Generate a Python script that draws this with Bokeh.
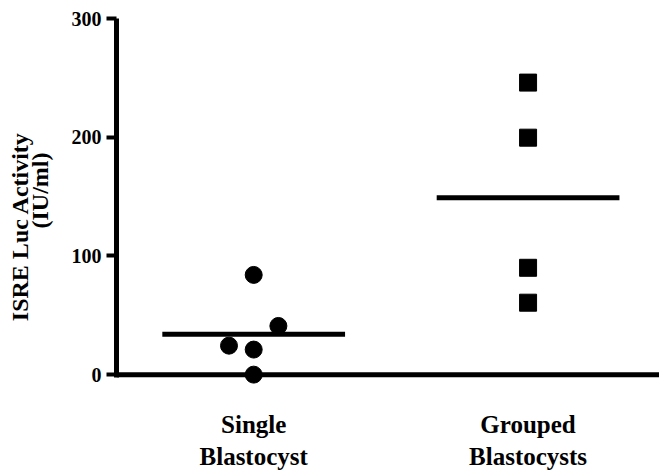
import numpy as np
from bokeh.plotting import figure
from bokeh.models import Range1d, Span, FixedTicker
from bokeh.embed import file_html
from bokeh.resources import INLINE

# ---- data ----
categories = ["Single\nBlastocyst", "Grouped\nBlastocysts"]
cat_pos = [1, 2]
single_values = [84.0, 41.0, 24.4, 21.1, 0.0]
single_jitter = [0.0, 0.09, -0.09, 0.0, 0.0]
grouped_values = [246.0, 199.6, 90.0, 60.6]
grouped_jitter = [0.0, 0.0, 0.0, 0.0]
y_ticks = [0, 100, 200, 300]
y_title = ["ISRE Luc Activity", "(IU/ml)"]

FONT = "Liberation Serif"
HALF = 0.333
NB = "\u00a0"

p = figure(width=659, height=472, output_backend="svg", toolbar_location=None,
           x_range=Range1d(0.5, 2.479), y_range=Range1d(-10, 300),
           min_border_left=116, min_border_right=0, min_border_top=18,
           min_border_bottom=80)
p.outline_line_color = None
p.xgrid.visible = False
p.ygrid.visible = False
p.background_fill_color = "white"
p.border_fill_color = "white"

# y axis
ya = p.yaxis[0]
ya.bounds = (-2, 300)
ya.ticker = FixedTicker(ticks=y_ticks)
ya.minor_tick_line_color = None
ya.major_tick_in = 0
ya.major_tick_out = 10
ya.major_tick_line_width = 4
ya.axis_line_width = 5
ya.major_label_standoff = 5
ya.major_label_text_font = FONT
ya.major_label_text_font_style = "bold"
ya.major_label_text_font_size = "20px"
ya.major_label_text_color = "black"
ya.axis_label = y_title[0] + NB * 8 + "\n" + NB * 4 + y_title[1]
ya.axis_label_standoff = 16
ya.axis_label_text_font = FONT
ya.axis_label_text_font_style = "bold"
ya.axis_label_text_font_size = "24px"
ya.axis_label_text_color = "black"
ya.axis_label_text_line_height = 0.75

# x axis (labels only)
xa = p.xaxis[0]
xa.ticker = FixedTicker(ticks=cat_pos)
xa.major_label_overrides = {c: lab for c, lab in zip(cat_pos, categories)}
xa.axis_line_color = None
xa.major_tick_line_color = None
xa.minor_tick_line_color = None
xa.major_label_standoff = 18
xa.major_label_text_font = FONT
xa.major_label_text_font_style = "bold"
xa.major_label_text_font_size = "25px"
xa.major_label_text_color = "black"

# baseline at 0
p.add_layout(Span(location=0, dimension="width", line_width=5, line_color="black"))

# points
sx = [cat_pos[0] + j for j in single_jitter]
gx = [cat_pos[1] + j for j in grouped_jitter]
p.scatter(sx, single_values, marker="circle", size=17, color="black")
p.scatter(gx, grouped_values, marker="square", size=17, color="black")

# means
means = [float(np.mean(single_values)), float(np.mean(grouped_values))]
p.segment(x0=[c - HALF for c in cat_pos], y0=means,
          x1=[c + HALF for c in cat_pos], y1=means,
          line_width=5, line_color="black")

open("out.html", "w").write(file_html(p, INLINE))
